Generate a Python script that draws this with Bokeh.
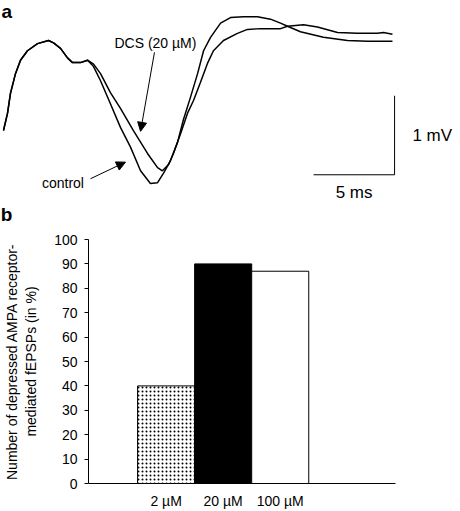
from bokeh.plotting import figure
from bokeh.models import Range1d, Arrow, NormalHead, Label, FixedTicker
from bokeh.embed import file_html
from bokeh.resources import INLINE

FONT = "Liberation Sans"

# ---------- panel a: fEPSP traces (time in ms, potential in mV) ----------
control_t = [0.00, 0.25, 0.43, 0.74, 1.05, 1.48, 2.10, 2.78, 3.09, 3.52, 3.95, 4.26, 4.75, 5.19,
             5.56, 5.99, 6.60, 7.22, 7.84, 8.46, 9.07, 9.51, 9.88, 10.31, 10.74, 11.11, 11.54,
             11.98, 12.35, 12.78, 13.40, 14.01, 14.81, 15.68, 16.48, 17.10, 17.53, 18.33, 19.75,
             21.23, 22.47, 24.01]
control_v = [-1.14, -0.92, -0.67, -0.42, -0.25, -0.13, -0.04, 0.00, -0.03, -0.10, -0.22, -0.28,
             -0.28, -0.25, -0.33, -0.51, -0.80, -1.10, -1.35, -1.65, -1.81, -1.80, -1.68, -1.52,
             -1.29, -1.00, -0.72, -0.42, -0.13, 0.04, 0.22, 0.29, 0.30, 0.30, 0.27, 0.22, 0.18,
             0.11, 0.04, 0.00, -0.01, -0.01]
dcs_t = [0.00, 0.25, 0.43, 0.74, 1.05, 1.48, 2.10, 2.78, 3.09, 3.52, 3.95, 4.26, 4.75, 5.19,
         5.56, 5.99, 6.60, 7.22, 8.02, 8.89, 9.51, 9.81, 10.19, 10.49, 10.93, 11.36, 11.73,
         12.16, 12.59, 12.96, 13.58, 14.44, 15.06, 15.86, 17.10, 17.53, 18.52, 19.38, 20.62,
         21.85, 23.09, 23.46, 24.01]
dcs_v = [-1.14, -0.92, -0.67, -0.42, -0.25, -0.13, -0.04, 0.00, -0.03, -0.10, -0.22, -0.28,
         -0.28, -0.25, -0.30, -0.42, -0.66, -0.86, -1.14, -1.43, -1.61, -1.65, -1.57, -1.43,
         -1.18, -0.92, -0.76, -0.53, -0.29, -0.13, 0.00, 0.09, 0.14, 0.15, 0.15, 0.18, 0.20,
         0.17, 0.10, 0.09, 0.09, 0.10, 0.08]
SCALE_MS = 5
SCALE_MV = 1

# ---------- panel b: bar chart ----------
categories = ["2 \u00b5M", "20 \u00b5M", "100 \u00b5M"]
percent_depressed = [40, 90, 87]
y_ticks = [0, 10, 20, 30, 40, 50, 60, 70, 80, 90, 100]

W = 460
HA = 225
HB = 286

pa = figure(width=W, height=HA, output_backend="svg", toolbar_location=None,
            x_range=Range1d(-0.185, 28.21), y_range=Range1d(-2.342, 0.506),
            min_border=0, x_axis_location=None, y_axis_location=None)
pa.outline_line_color = None
pa.grid.visible = False

pa.line(control_t, control_v, line_color="black", line_width=1.5)
pa.line(dcs_t, dcs_v, line_color="black", line_width=1.5)

# scale bars
sb_x, sb_y = 24.14, -1.70
pa.line([sb_x - SCALE_MS, sb_x, sb_x], [sb_y, sb_y, sb_y + SCALE_MV], line_color="black", line_width=1)

pa.add_layout(Label(x=sb_x + 1.1, y=sb_y + SCALE_MV / 2, text="1 mV", text_font=FONT,
                    text_font_size="17px", text_baseline="middle", text_align="left",
                    text_color="black"))
pa.add_layout(Label(x=sb_x - SCALE_MS / 2, y=-1.92, text="5 ms", text_font=FONT,
                    text_font_size="17px", text_baseline="middle", text_align="center",
                    text_color="black"))

pa.add_layout(Label(x=9.38, y=-0.03, text="DCS (20 \u00b5M)", text_font=FONT,
                    text_font_size="14px", text_baseline="middle", text_align="center",
                    text_color="black"))
pa.add_layout(Label(x=3.67, y=-1.81, text="control", text_font=FONT,
                    text_font_size="14px", text_baseline="middle", text_align="center",
                    text_color="black"))

pa.add_layout(Arrow(end=NormalHead(size=9, fill_color="black", line_color="black"),
                    x_start=9.32, y_start=-0.15, x_end=8.46, y_end=-1.15,
                    line_color="black", line_width=1))
pa.add_layout(Arrow(end=NormalHead(size=9, fill_color="black", line_color="black"),
                    x_start=5.37, y_start=-1.75, x_end=7.53, y_end=-1.54,
                    line_color="black", line_width=1))

# panel letters
pa.add_layout(Label(x=-0.12, y=0.506, text="a", text_font=FONT, text_font_size="19px",
                    text_font_style="bold", text_baseline="top", text_color="black"))
pa.add_layout(Label(x=-0.17, y=-2.203, text="b", text_font=FONT, text_font_size="19px",
                    text_font_style="bold", text_baseline="alphabetic", text_color="black"))

# ---------- panel b ----------
xs = list(range(len(categories)))
pb = figure(width=W, height=HB, output_backend="svg", toolbar_location=None,
            x_range=Range1d(-1.36, 4.02), y_range=Range1d(0, 100),
            min_border_left=83, min_border_right=65, min_border_top=14, min_border_bottom=28)
pb.outline_line_color = None
pb.grid.visible = False

fills = ["white", "black", "white"]
hatches = ["dot", " ", " "]
pb.vbar(x=xs, top=percent_depressed, width=1, bottom=0, fill_color=fills,
        line_color="black", line_width=1, hatch_pattern=hatches, hatch_color="black",
        hatch_scale=4, hatch_weight=1)

pb.xaxis.ticker = FixedTicker(ticks=xs)
pb.xaxis.major_label_overrides = {i: c for i, c in zip(xs, categories)}
pb.xaxis.major_tick_line_color = None
pb.xaxis.major_tick_in = 0
pb.xaxis.major_tick_out = 0
pb.xaxis.minor_tick_line_color = None
pb.xaxis.major_label_standoff = 9
pb.xaxis.major_label_text_font = FONT
pb.xaxis.major_label_text_font_size = "14px"
pb.xaxis.major_label_text_color = "black"
pb.xaxis.axis_line_color = "black"

pb.yaxis.ticker = FixedTicker(ticks=y_ticks)
pb.yaxis.major_tick_in = 0
pb.yaxis.major_tick_out = 4
pb.yaxis.minor_tick_line_color = None
pb.yaxis.major_label_standoff = 7
pb.yaxis.major_label_text_font = FONT
pb.yaxis.major_label_text_font_size = "14px"
pb.yaxis.major_label_text_color = "black"
pb.yaxis.axis_line_color = "black"
pb.yaxis.major_tick_line_color = "black"
pb.yaxis.axis_label = "Number of depressed AMPA receptor-\nmediated fEPSPs (in %)"
pb.yaxis.axis_label_text_font = FONT
pb.yaxis.axis_label_text_font_size = "14px"
pb.yaxis.axis_label_text_font_style = "normal"
pb.yaxis.axis_label_text_color = "black"
pb.yaxis.axis_label_standoff = 12

open("out.html", "w").write(file_html([pa, pb], INLINE))
